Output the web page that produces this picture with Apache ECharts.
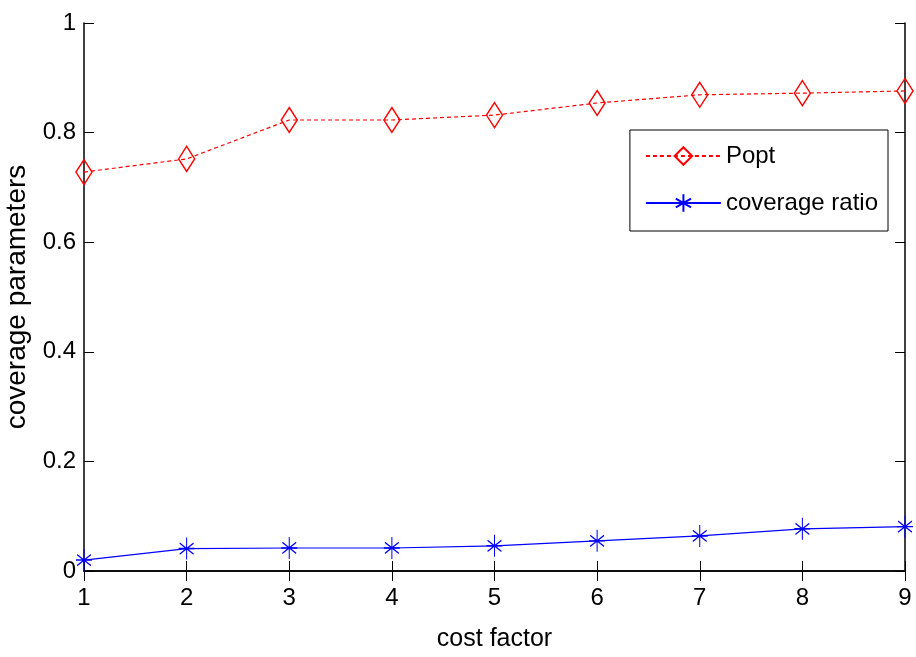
<!DOCTYPE html>
<html><head><meta charset="utf-8">
<script src="https://cdn.jsdelivr.net/npm/echarts@6/dist/echarts.min.js"></script>
<style>html,body{margin:0;padding:0;background:#fff}#c{width:916px;height:657px}</style>
</head><body><div id="c"></div>
<script>
const costFactor = [1, 2, 3, 4, 5, 6, 7, 8, 9];
const popt = [0.728, 0.752, 0.823, 0.823, 0.832, 0.854, 0.869, 0.872, 0.876];
const coverageRatio = [0.020, 0.041, 0.042, 0.042, 0.046, 0.055, 0.064, 0.077, 0.081];

const FONT = '"Liberation Sans", Arial, sans-serif';
const chart = echarts.init(document.getElementById('c'));
const star = 'path://M0,-10L0,10M-8.66,-5L8.66,5M-8.66,5L8.66,-5M-10,0L10,0';
const axisCommon = {
  type: 'value',
  axisLine: {show: true, lineStyle: {color: '#000', width: 1.5}},
  axisTick: {show: true, inside: true, length: 10, lineStyle: {color: '#000', width: 1}},
  splitLine: {show: false}
};
chart.setOption({
  animation: false,
  textStyle: {fontFamily: FONT},
  grid: {left: 84, right: 11, top: 23, bottom: 86, containLabel: false, outerBoundsMode: 'none'},
  legend: {
    right: 28, top: 130, orient: 'vertical', width: 259, height: 100,
    itemWidth: 75, itemHeight: 22, itemGap: 23,
    padding: [14, 10, 16, 15],
    borderColor: '#000', borderWidth: 1, backgroundColor: '#fff',
    textStyle: {fontFamily: FONT, fontSize: 24, color: '#000'},
    data: ['Popt', 'coverage ratio']
  },
  xAxis: [
    Object.assign({}, axisCommon, {
      min: 1, max: 9, interval: 1, position: 'bottom',
      axisLabel: {fontSize: 24, color: '#000', margin: 15, fontFamily: FONT},
      name: 'cost factor', nameLocation: 'middle', nameGap: 56,
      nameTextStyle: {fontSize: 25, color: '#000', fontFamily: FONT}
    }),
    Object.assign({}, axisCommon, {
      min: 1, max: 9, interval: 1, position: 'top', axisLabel: {show: false}
    })
  ],
  yAxis: [
    Object.assign({}, axisCommon, {
      min: 0, max: 1, interval: 0.2, position: 'left',
      axisLabel: {fontSize: 24, color: '#000', margin: 8, fontFamily: FONT},
      name: 'coverage parameters', nameLocation: 'middle', nameGap: 43,
      nameTextStyle: {fontSize: 28, color: '#000', fontFamily: FONT}
    }),
    Object.assign({}, axisCommon, {
      min: 0, max: 1, interval: 0.2, position: 'right', axisLabel: {show: false}
    })
  ],
  series: [
    {
      name: 'Popt', type: 'line', clip: false,
      data: costFactor.map((x, i) => [x, popt[i]]),
      symbol: 'diamond', symbolSize: [16, 25],
      lineStyle: {color: '#ff0000', width: 1.2, type: [4, 3]},
      itemStyle: {color: 'rgba(255,255,255,0)', borderColor: '#ff0000', borderWidth: 1.5}
    },
    {
      name: 'coverage ratio', type: 'line', clip: false,
      data: costFactor.map((x, i) => [x, coverageRatio[i]]),
      symbol: star, symbolSize: [16, 22],
      lineStyle: {color: '#0000ff', width: 1.2},
      itemStyle: {color: '#0000ff', borderColor: '#0000ff', borderWidth: 1.2}
    }
  ]
});
</script></body></html>
